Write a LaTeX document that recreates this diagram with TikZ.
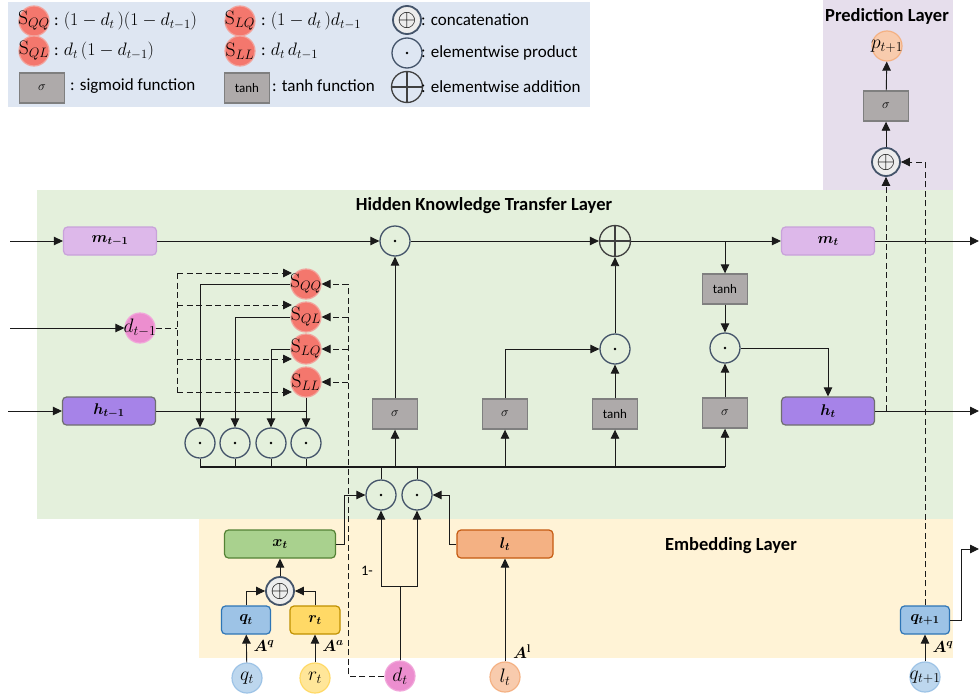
\RequirePackage{fix-cm}
\documentclass[tikz,border=0pt]{standalone}
\usepackage[no-math]{fontspec}
\setmainfont{Carlito}
\usepackage{amsmath}
\usepackage{bm}
\usetikzlibrary{arrows.meta}
\definecolor{legbg}{HTML}{DEE6F2}
\definecolor{hidbg}{HTML}{E4F0DC}
\definecolor{embbg}{HTML}{FFF3D6}
\definecolor{predbg}{HTML}{E6DEEC}
\definecolor{gatefill}{HTML}{AEAAAA}
\definecolor{gatedraw}{HTML}{7F7F7F}
\definecolor{proddraw}{HTML}{44546A}
\definecolor{sfill}{HTML}{F4776D}
\definecolor{sdraw}{HTML}{F2A39C}
\definecolor{dfill}{HTML}{EC8ECF}
\definecolor{ddraw}{HTML}{F1A6DA}
\definecolor{mfill}{HTML}{DDB8EA}
\definecolor{mdraw}{HTML}{C8A2DA}
\definecolor{hfill}{HTML}{A683E8}
\definecolor{hdraw}{HTML}{6F6F6F}
\definecolor{xfill}{HTML}{A9D18E}
\definecolor{xdraw}{HTML}{548235}
\definecolor{lfill}{HTML}{F4B183}
\definecolor{ldraw}{HTML}{C55A11}
\definecolor{qfill}{HTML}{9DC3E6}
\definecolor{qdraw}{HTML}{2E75B6}
\definecolor{rfill}{HTML}{FFD966}
\definecolor{rdraw}{HTML}{BF9000}
\definecolor{qcfill}{HTML}{BDD7EE}
\definecolor{qcdraw}{HTML}{9DC3E6}
\definecolor{rcfill}{HTML}{FFE699}
\definecolor{rcdraw}{HTML}{FFD966}
\definecolor{lcfill}{HTML}{F8CBAD}
\definecolor{lcdraw}{HTML}{F4B183}
\definecolor{linec}{HTML}{1A1A1A}
\tikzset{
  base/.style={line width=0.9pt, draw=linec},
  arr/.style={base, -{Triangle[length=9pt,width=8.5pt]}},
  dline/.style={base, dash pattern=on 6pt off 3.5pt},
  dasharr/.style={arr, dash pattern=on 6pt off 3.5pt},
  title/.style={font=\fontsize{18.5}{21}\selectfont\bfseries, inner sep=0pt},
  legtext/.style={anchor=west, inner sep=0pt, font=\fontsize{17}{19}\selectfont},
  box/.style={rectangle, rounded corners=4pt, line width=1.2pt, minimum height=28pt, inner sep=0pt, font=\fontsize{15.5}{17}\selectfont},
  mbox/.style={box, fill=mfill, draw=mdraw, minimum width=93pt},
  hbox/.style={box, fill=hfill, draw=hdraw, minimum width=93pt},
  xbox/.style={box, fill=xfill, draw=xdraw, minimum width=111pt},
  lbox/.style={box, fill=lfill, draw=ldraw, minimum width=96pt},
  qbox/.style={box, fill=qfill, draw=qdraw, minimum width=49pt},
  rbox/.style={box, fill=rfill, draw=rdraw, minimum width=50pt},
  gate/.style={rectangle, fill=gatefill, draw=gatedraw, line width=1.4pt, minimum width=45pt, minimum height=30pt, inner sep=0pt, font=\fontsize{13}{15}\selectfont},
  circ/.style={circle, minimum size=30pt, inner sep=0pt, line width=1.2pt, font=\fontsize{19.5}{21}\selectfont},
  scirc/.style={circ, fill=sfill, draw=sdraw},
  dcirc/.style={circ, fill=dfill, draw=ddraw},
  qcirc/.style={circ, fill=qcfill, draw=qcdraw},
  rcirc/.style={circ, fill=rcfill, draw=rcdraw},
  lcirc/.style={circ, fill=lcfill, draw=lcdraw},
  prod/.style={circle, minimum size=30pt, inner sep=0pt, draw=proddraw, line width=1.3pt,
    path picture={\fill[black] (path picture bounding box.center) circle (1.4pt);}},
  addc/.style={circle, minimum size=31pt, inner sep=0pt, draw=black!75, line width=1.3pt,
    path picture={\draw[black!75, line width=1.3pt] (path picture bounding box.north) -- (path picture bounding box.south) (path picture bounding box.west) -- (path picture bounding box.east);}},
  concat/.style={circle, minimum size=28pt, inner sep=0pt, draw=proddraw, line width=1.8pt, fill=black!7, font=\fontsize{24}{24}\selectfont},
  lab/.style={inner sep=0pt, font=\fontsize{16}{18}\selectfont},
}
\newcommand{\ctx}[1]{\makebox[0pt][c]{#1}}
\newcommand{\lm}[1]{{\fontsize{18}{20}\selectfont$#1$}}
\begin{document}
\begin{tikzpicture}[x=1pt,y=-1pt]
\useasboundingbox (0,0) rectangle (979,696);
% backgrounds
\fill[legbg] (8,2) rectangle (590,107);
\fill[predbg] (823,0) rectangle (953,190);
\fill[hidbg] (37,190) rectangle (953,519);
\fill[embbg] (199,519) rectangle (953,658);
% titles
\node[title] (tHid) at (484,206) {Hidden Knowledge Transfer Layer};
\node[title] (tEmb) at (731,546) {Embedding Layer};
\node[title] (tPred) at (887,16) {Prediction Layer};
% legend
\node[scirc] (lQQ) at (34,21) {\ctx{$\mathrm{S}_{QQ}$}};
\node[legtext] (lQQt) at (54,21) {: \lm{(1-d_t\,)(1-d_{t-1})}};
\node[scirc] (lQL) at (34,51) {\ctx{$\mathrm{S}_{QL}$}};
\node[legtext] (lQLt) at (54,51) {: \lm{d_t\,(1-d_{t-1})}};
\node[gate] (lsig) at (42,88) {$\sigma$};
\node[legtext] (lsigt) at (70,86) {: sigmoid function};
\node[scirc] (lLQ) at (240,21) {\ctx{$\mathrm{S}_{LQ}$}};
\node[legtext] (lLQt) at (261,21) {: \lm{(1-d_t\,)d_{t-1}}};
\node[scirc] (lLL) at (240,51) {\ctx{$\mathrm{S}_{LL}$}};
\node[legtext] (lLLt) at (261,51) {: \lm{d_t\,d_{t-1}}};
\node[gate] (ltanh) at (247,88) {tanh};
\node[legtext] (ltanht) at (272,86) {: tanh function};
\node[concat] (lcat) at (407,20) {$\oplus$};
\node[legtext] (lcatt) at (421,20) {: concatenation};
\node[prod] (lprod) at (407,53) {};
\node[legtext] (lprodt) at (421,53) {: elementwise product};
\node[addc] (ladd) at (407,87) {};
\node[legtext] (laddt) at (421,87) {: elementwise addition};
% hidden layer inputs
\node[mbox] (mprev) at (110,241) {$\bm{m_{t-1}}$};
\node[hbox] (hprev) at (109,411) {$\bm{h_{t-1}}$};
\node[dcirc] (dprev) at (140,328) {\ctx{$d_{t-1}$}};
\coordinate (inM) at (10,241);
\coordinate (inD) at (10,328);
\coordinate (inH) at (8,411);
\draw[arr] (inM) -- (mprev);
\draw[arr] (inD) -- (dprev.west);
\draw[arr] (inH) -- (hprev);
% S nodes
\node[scirc] (SQQ) at (306,284) {\ctx{$\mathrm{S}_{QQ}$}};
\node[scirc] (SQL) at (306,317) {\ctx{$\mathrm{S}_{QL}$}};
\node[scirc] (SLQ) at (306,349) {\ctx{$\mathrm{S}_{LQ}$}};
\node[scirc] (SLL) at (306,382) {\ctx{$\mathrm{S}_{LL}$}};
% dashed from d_{t-1}
\coordinate (dj) at (177,328);
\coordinate (dA) at (177,273);
\coordinate (dB) at (177,305);
\coordinate (dC) at (177,359);
\coordinate (dD) at (177,392);
\coordinate (sx) at (292,300);
\draw[dline] (dprev.east) -- (dj);
\draw[dline] (dA) -- (dD);
\draw[dasharr] (dA) -- (dA -| sx);
\draw[dasharr] (dB) -- (dB -| sx);
\draw[dasharr] (dC) -- (dC -| sx);
\draw[dasharr] (dD) -- (dD -| sx);
% product circles
\node[prod] (p1) at (200,443) {};
\node[prod] (p2) at (235,443) {};
\node[prod] (p3) at (271,443) {};
\node[prod] (p4) at (306,443) {};
\draw[arr] (SQQ.west) -| (p1);
\draw[arr] (SQL.west) -| (p2);
\draw[arr] (SLQ.west) -| (p3);
\draw[arr] (SLL) -- (p4);
\draw[base] (hprev.east) -- (hprev.east -| p4);
% bus
\coordinate (busL) at (200,467);
\coordinate (busR) at (725,467);
\draw[base] (p1) -- (p1 |- busL);
\draw[base] (p2) -- (p2 |- busL);
\draw[base] (p3) -- (p3 |- busL);
\draw[base] (p4) -- (p4 |- busL);
\draw[base, line width=1.3pt] (busL) -- (busR);
% gating circles
\node[prod] (g1) at (381,495) {};
\node[prod] (g2) at (417,495) {};
\draw[base] (g1) -- (g1 |- busL);
\draw[base] (g2) -- (g2 |- busL);
% gates
\node[gate] (sig1) at (395,414) {$\sigma$};
\node[gate] (sig2) at (505,414) {$\sigma$};
\node[gate] (tanh1) at (615,414) {tanh};
\node[gate] (sig3) at (725,413) {$\sigma$};
\draw[arr] (sig1 |- busL) -- (sig1);
\draw[arr] (sig2 |- busL) -- (sig2);
\draw[arr] (tanh1 |- busL) -- (tanh1);
\draw[arr] (busR) -- (sig3);
\node[prod] (f1) at (395,241) {};
\draw[arr] (sig1) -- (f1);
\draw[arr] (mprev) -- (f1);
\node[addc] (add1) at (615,241) {};
\draw[arr] (f1) -- (add1);
\node[prod] (i1) at (615,349) {};
\draw[arr] (sig2.north) |- (i1);
\draw[arr] (tanh1) -- (i1);
\draw[arr] (i1) -- (add1);
\node[mbox] (mt) at (828,241) {$\bm{m_t}$};
\draw[arr] (add1) -- (mt);
\coordinate (outM) at (979,241);
\draw[arr] (mt) -- (outM);
\node[gate] (tanh2) at (725,289) {tanh};
\coordinate (br) at (725,241);
\draw[arr] (br) -- (tanh2);
\node[prod] (o1) at (725,348) {};
\draw[arr] (tanh2) -- (o1);
\draw[arr] (sig3) -- (o1);
\node[hbox] (ht) at (828,411) {$\bm{h_t}$};
\draw[arr] (o1.east) -| (ht.north);
\coordinate (outH) at (979,411);
\draw[arr] (ht) -- (outH);
% prediction
\node[concat] (pc) at (886,162) {$\oplus$};
\node[gate] (psig) at (886,106) {$\sigma$};
\node[lcirc] (pt) at (887,46) {\ctx{$p_{t+1}$}};
\draw[arr] (pc) -- (psig);
\draw[arr] (psig) -- (pt);
\coordinate (hb) at (886,411);
\draw[dasharr] (hb) -- (pc);
% embedding
\node[qbox] (q1) at (925,620) {$\bm{q_{t+1}}$};
\draw[dasharr] (q1.north) |- (pc.east);
\coordinate (qk) at (961,620);
\coordinate (outQ) at (979,549);
\draw[arr] (q1.east) -- (qk) |- (outQ);
\node[qcirc] (q1c) at (925,677) {\ctx{$q_{t+1}$}};
\draw[arr] (q1c) -- (q1);
\node[lab] (Aq2) at (943,647) {$\bm{A^q}$};
\node[xbox] (xt) at (280,544) {$\bm{x_t}$};
\node[lbox] (lt) at (505,544) {$\bm{l_t}$};
\coordinate (xk) at (344,544);
\draw[arr] (xt.east) -- (xk) |- (g1.west);
\coordinate (lk) at (449,544);
\draw[arr] (lt.west) -- (lk) |- (g2.east);
\node[dcirc] (dt) at (400,676) {\ctx{$d_t$}};
\coordinate (dk) at (400,586);
\draw[base] (dt) -- (dk);
\draw[arr] (dk) -| (g1);
\draw[arr] (dk) -| (g2);
\node[lab, font=\fontsize{14.5}{16}\selectfont] (one) at (367,571) {1-};
\coordinate (rv) at (348,676);
\draw[dline] (dt.west) -- (rv) -- (rv |- SQQ);
\draw[dasharr] (SQQ -| rv) -- (SQQ.east);
\draw[dasharr] (SQL -| rv) -- (SQL.east);
\draw[dasharr] (SLQ -| rv) -- (SLQ.east);
\draw[dasharr] (SLL -| rv) -- (SLL.east);
\node[lcirc] (ltc) at (505,677) {\ctx{$l_t$}};
\draw[arr] (ltc) -- (lt);
\node[lab] (Al) at (522,652) {$\bm{A^{\mathrm{l}}}$};
\node[qbox] (qt) at (246,620) {$\bm{q_t}$};
\node[rbox] (rt) at (315,620) {$\bm{r_t}$};
\node[concat] (cc) at (280,591) {$\oplus$};
\draw[arr] (qt.north) |- (cc.west);
\draw[arr] (rt.north) |- (cc.east);
\draw[arr] (cc) -- (xt);
\node[qcirc] (qtc) at (247,678) {\ctx{$q_t$}};
\draw[arr] (qtc) -- (qt);
\node[lab] (Aq1) at (264,646) {$\bm{A^q}$};
\node[rcirc] (rtc) at (315,678) {\ctx{$r_t$}};
\draw[arr] (rtc) -- (rt);
\node[lab] (Aa) at (333,646) {$\bm{A^a}$};
\end{tikzpicture}
\end{document}
